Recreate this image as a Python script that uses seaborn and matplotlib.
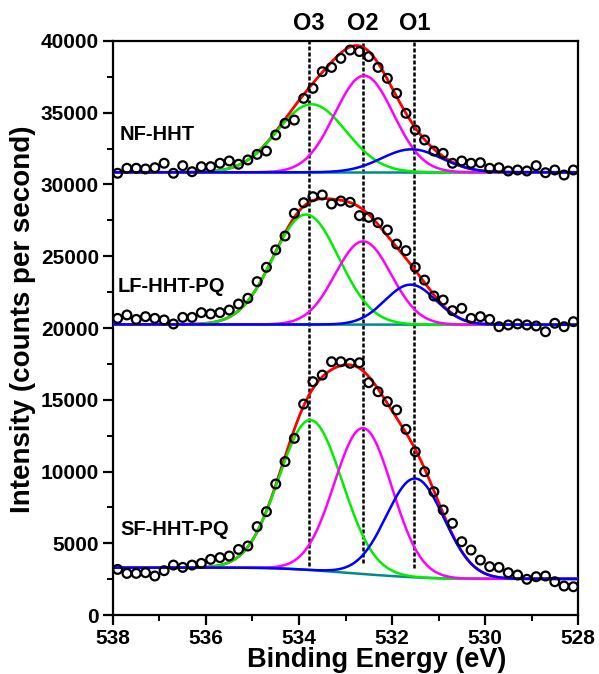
import numpy as np
import pandas as pd
import matplotlib
matplotlib.use("Agg")
import matplotlib.pyplot as plt
import seaborn as sns
from matplotlib.ticker import MultipleLocator

# ---------------- data ----------------
energy = [537.9, 537.7, 537.5, 537.3, 537.1, 536.9, 536.7, 536.5, 536.3, 536.1,
          535.9, 535.7, 535.5, 535.3, 535.1, 534.9, 534.7, 534.5, 534.3, 534.1,
          533.9, 533.7, 533.5, 533.3, 533.1, 532.9, 532.7, 532.5, 532.3, 532.1,
          531.9, 531.7, 531.5, 531.3, 531.1, 530.9, 530.7, 530.5, 530.3, 530.1,
          529.9, 529.7, 529.5, 529.3, 529.1, 528.9, 528.7, 528.5, 528.3, 528.1]

nf_counts = [30780, 31130, 31130, 31080, 31170, 31480, 30780, 31310, 30890, 31240,
             31240, 31480, 31640, 31410, 31710, 32100, 32330, 33450, 34260, 34490,
             36000, 36700, 37860, 38160, 38790, 39370, 39260, 38910, 38160, 37400,
             36350, 34960, 33800, 33100, 32330, 32170, 31480, 31640, 31480, 31520,
             31130, 31170, 30940, 31010, 30940, 31310, 30820, 31010, 30660, 31010]

lf_counts = [20670, 20910, 20600, 20790, 20670, 20560, 20280, 20740, 20740, 21070,
             20980, 21070, 21250, 21670, 22070, 23230, 24230, 25440, 26410, 27990,
             28730, 29150, 29270, 28640, 28850, 28760, 27830, 27710, 27340, 26830,
             25850, 25390, 24230, 23340, 22230, 21950, 21210, 21370, 20670, 20790,
             20600, 20090, 20210, 20280, 20210, 20140, 19740, 20330, 20090, 20440]

sf_counts = [3180, 2900, 2900, 2950, 2720, 3090, 3480, 3320, 3480, 3600,
             3880, 4000, 4110, 4570, 4810, 6160, 7200, 9130, 10690, 12310,
             14700, 16260, 16720, 17650, 17650, 17540, 17580, 16190, 15560, 14870,
             14290, 12940, 11380, 9990, 8590, 7320, 6390, 5110, 4530, 3830,
             3370, 3320, 2950, 2790, 2490, 2670, 2720, 2320, 2020, 1970]

samples = ["NF-HHT", "LF-HHT-PQ", "SF-HHT-PQ"]
peak_names = ["O3", "O2", "O1"]
peak_lines = [533.78, 532.62, 531.52]
peak_line_bottom = [3400, 3600, 3280]

# fitted components (O3, O2, O1): centre (eV), height (counts), sigma (eV)
nf_center = [533.73, 532.60, 531.58]
nf_height = [4740, 6730, 1600]
nf_sigma = [0.74, 0.63, 0.65]
nf_bg = [30850, 30850]          # background at 538 eV side, 528 eV side

lf_center = [533.85, 532.62, 531.60]
lf_height = [7660, 5800, 2790]
lf_sigma = [0.71, 0.60, 0.55]
lf_bg = [20250, 20230]

sf_center = [533.75, 532.62, 531.50]
sf_height = [10450, 10170, 6890]
sf_sigma = [0.68, 0.62, 0.62]
sf_bg = [3300, 2520]

label_pos = [(537.85, 33450), (537.9, 22880), (537.85, 5990)]

# ---------------- styling ----------------
sns.set_style("ticks")
plt.rcParams["font.family"] = ["Liberation Sans", "DejaVu Sans"]
plt.rcParams["font.weight"] = "bold"
for key in ["text.color", "axes.labelcolor", "xtick.color", "ytick.color",
            "axes.edgecolor"]:
    plt.rcParams[key] = "black"

fig = plt.figure(figsize=(5.99, 6.74), dpi=100)
ax = fig.add_axes([0.1886, 0.0875, 0.7764, 0.8517])

grid = np.linspace(528, 538, 601)
comp_colors = ["#00ee00", "#ff00ff", "#0000ff"]


def components(centers, heights, sigmas, bg):
    comps = [h * np.exp(-(grid - c) ** 2 / (2 * s ** 2))
             for c, h, s in zip(centers, heights, sigmas)]
    total = np.sum(comps, axis=0)
    # Shirley-type step background (grid is ascending: 528 -> 538)
    cum = np.concatenate([[0], np.cumsum((total[1:] + total[:-1]) / 2 * np.diff(grid))])
    back = bg[1] + (bg[0] - bg[1]) * cum / cum[-1]
    return comps, back


spectra = [
    (nf_counts, nf_center, nf_height, nf_sigma, nf_bg),
    (lf_counts, lf_center, lf_height, lf_sigma, lf_bg),
    (sf_counts, sf_center, sf_height, sf_sigma, sf_bg),
]

# dashed reference lines
for x, yb in zip(peak_lines, peak_line_bottom):
    ax.vlines(x, yb, 40000, colors="black", linestyles=(0, (1.6, 0.8)),
              linewidth=1.8, zorder=1.5)

for (counts, cen, hei, sig, bg), name, (lx, ly) in zip(spectra, samples, label_pos):
    comps, back = components(cen, hei, sig, bg)
    sns.lineplot(x=grid, y=back, color="#008b8b", linewidth=1.8, ax=ax, zorder=2)
    sns.lineplot(x=grid, y=back + np.sum(comps, axis=0), color="#ff0000",
                 linewidth=2.0, ax=ax, zorder=3)
    for comp, col in zip(comps, comp_colors):
        sns.lineplot(x=grid, y=back + comp, color=col, linewidth=1.8, ax=ax, zorder=3)
    sns.scatterplot(x=energy, y=counts, marker="o", s=40, facecolor="none",
                    edgecolor="black", linewidth=1.6, ax=ax, zorder=4)
    ax.text(lx, ly, name, fontsize=14.5, fontweight="bold", ha="left",
            va="center", zorder=6, color="black")

for x, n in zip(peak_lines, peak_names):
    ax.text(x, 41250, n, fontsize=17, fontweight="bold", ha="center",
            va="center", clip_on=False, color="black")

ax.set_xlim(538, 528)
ax.set_ylim(0, 40000)
ax.xaxis.set_major_locator(MultipleLocator(2))
ax.xaxis.set_minor_locator(MultipleLocator(1))
ax.yaxis.set_major_locator(MultipleLocator(5000))
ax.yaxis.set_minor_locator(MultipleLocator(2500))
ax.tick_params(axis="both", which="major", direction="out", length=7,
               width=1.6, labelsize=15, pad=3, top=False, right=False,
               colors="black")
ax.tick_params(axis="both", which="minor", direction="out", length=4,
               width=1.4, top=False, right=False, colors="black")
for lab in ax.get_xticklabels() + ax.get_yticklabels():
    lab.set_fontweight("bold")
for sp in ax.spines.values():
    sp.set_visible(True)
    sp.set_linewidth(1.6)
    sp.set_color("black")

ax.set_xlabel("Binding Energy (eV)", fontsize=19.5, fontweight="bold")
ax.set_ylabel("Intensity (counts per second)", fontsize=20, fontweight="bold")
ax.xaxis.set_label_coords(0.568, -0.055)
ax.yaxis.set_label_coords(-0.165, 0.516)

fig.savefig("out.png", dpi=100)
